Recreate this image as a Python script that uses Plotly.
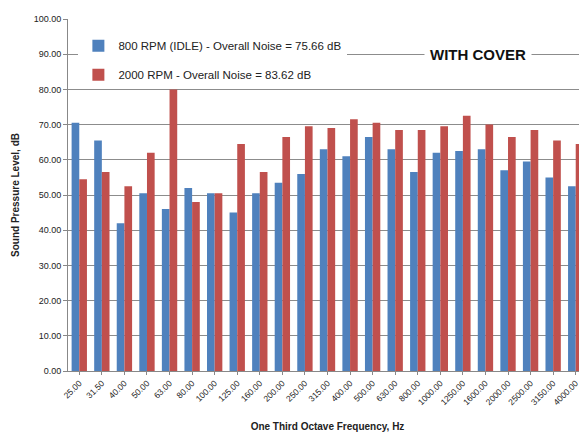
import plotly.graph_objects as go

categories = ["25.00", "31.50", "40.00", "50.00", "63.00", "80.00", "100.00", "125.00",
              "160.00", "200.00", "250.00", "315.00", "400.00", "500.00", "630.00", "800.00",
              "1000.00", "1250.00", "1600.00", "2000.00", "2500.00", "3150.00", "4000.00"]
idle_800 = [70.5, 65.5, 42.0, 50.5, 46.0, 52.0, 50.5, 45.0, 50.5, 53.5, 56.0, 63.0,
            61.0, 66.5, 63.0, 56.5, 62.0, 62.5, 63.0, 57.0, 59.5, 55.0, 52.5]
rpm_2000 = [54.5, 56.5, 52.5, 62.0, 80.0, 48.0, 50.5, 64.5, 56.5, 66.5, 69.5, 69.0,
            71.5, 70.5, 68.5, 68.5, 69.5, 72.5, 70.0, 66.5, 68.5, 65.5, 64.5]
series_names = ["800 RPM (IDLE) - Overall Noise = 75.66 dB",
                "2000 RPM - Overall Noise = 83.62 dB"]
y_ticks = [0, 10, 20, 30, 40, 50, 60, 70, 80, 90, 100]

fig = go.Figure()
fig.add_trace(go.Bar(x=categories, y=idle_800, name=series_names[0],
                     marker=dict(color="#4F81BD", line=dict(width=0)), legendgroup="a"))
fig.add_trace(go.Bar(x=categories, y=rpm_2000, name=series_names[1],
                     marker=dict(color="#C0504D", line=dict(width=0)), legendgroup="b"))

font_family = "Liberation Sans, Arial, sans-serif"
fig.update_layout(
    width=587, height=441,
    margin=dict(l=60, r=8, t=6, b=78),
    paper_bgcolor="white", plot_bgcolor="white",
    barmode="group", bargap=0.32, bargroupgap=0.0,
    font=dict(family=font_family, size=9, color="#222"),
    legend=dict(x=0.02, y=0.965, xanchor="left", yanchor="top",
                bgcolor="white", font=dict(size=11.5, color="#222"),
                traceorder="grouped", tracegroupgap=10,
                itemwidth=30),
    xaxis=dict(type="category", tickangle=-45, tickfont=dict(size=8.5),
               showline=True, linecolor="#888", linewidth=1,
               ticks="outside", ticklen=3, tickcolor="#888",
               title=dict(text="<b>One Third Octave Frequency, Hz</b>",
                          font=dict(size=10), standoff=16)),
    yaxis=dict(range=[0, 100], tickvals=y_ticks,
               ticktext=[f"{v:.2f}" for v in y_ticks], tickfont=dict(size=9),
               showgrid=True, gridcolor="#8c8c8c", gridwidth=1,
               showline=True, linecolor="#888", linewidth=1,
               ticks="outside", ticklen=4, tickcolor="#888",
               zeroline=False,
               title=dict(text="<b>Sound Pressure Level, dB</b>",
                          font=dict(size=10), standoff=12)),
    annotations=[dict(text="<b>WITH COVER</b>", x=0.79, y=90, xref="paper", yref="y",
                      xanchor="center", yanchor="middle",
                      showarrow=False, font=dict(size=15, color="#111"),
                      bgcolor="white", borderpad=5)],
)

fig.write_html("out.html")
